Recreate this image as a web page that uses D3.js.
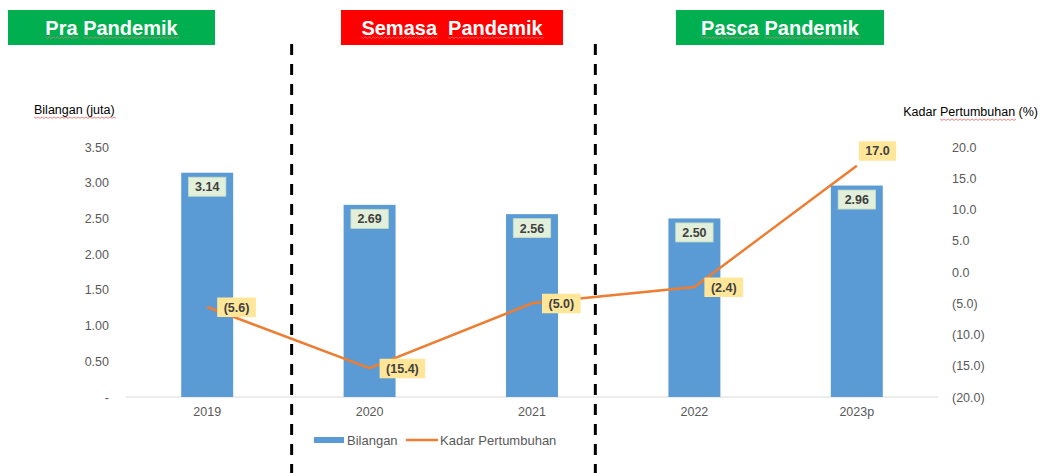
<!DOCTYPE html>
<html>
<head>
<meta charset="utf-8">
<script src="https://cdn.jsdelivr.net/npm/d3@7"></script>
<style>
  html, body { margin: 0; padding: 0; background: #fff; }
  svg { display: block; font-family: "Liberation Sans", Arial, sans-serif; }
</style>
</head>
<body>
<div id="chart"></div>
<script>
const years = ["2019", "2020", "2021", "2022", "2023p"];
const bilangan = [3.14, 2.69, 2.56, 2.50, 2.96];
const kadar = [-5.6, -15.4, -5.0, -2.4, 17.0];
const leftTicks = [0, 0.5, 1.0, 1.5, 2.0, 2.5, 3.0, 3.5];
const rightTicks = [-20, -15, -10, -5, 0, 5, 10, 15, 20];
const phaseLabels = ["Pra Pandemik", "Semasa  Pandemik", "Pasca Pandemik"];
const phaseColors = ["#00B050", "#FF0000", "#00B050"];
const seriesNames = ["Bilangan", "Kadar Pertumbuhan"];

(function () {
  const width = 1040, height = 473;
  const plot = { left: 126, right: 938, top: 147, bottom: 397 };

  const svg = d3.select("#chart").append("svg")
    .attr("width", width)
    .attr("height", height);

  const x = d3.scalePoint().domain(years)
    .range([plot.left, plot.right]).padding(0.5);
  const step = x.step();
  const yL = d3.scaleLinear().domain([0, 3.5]).range([plot.bottom, plot.top]);
  const yR = d3.scaleLinear().domain([-20, 20]).range([plot.bottom, plot.top]);

  const fmtL = (v) => (v === 0 ? "-" : d3.format(".2f")(v));
  const fmtR = (v) => (v < 0 ? `(${d3.format(".1f")(-v)})` : d3.format(".1f")(v));

  // red spell-check squiggle
  function squiggle(x0, x1, y, color) {
    let d = `M${x0},${y}`;
    for (let xx = x0, k = 0; xx < x1; xx += 2, k++) {
      d += `L${xx + 2},${y + (k % 2 ? 0 : 1.4)}`;
    }
    svg.append("path").attr("d", d).attr("fill", "none")
      .attr("stroke", color || "#E05050").attr("stroke-width", 0.7);
  }
  // squiggle under chosen words of a text node
  function squiggleWords(node, words, y, color) {
    const s = node.textContent;
    const x0 = node.getStartPositionOfChar(0).x;
    words.forEach((w) => {
      const i = s.indexOf(w);
      if (i < 0) return;
      const a = x0 + (i ? node.getSubStringLength(0, i) : 0);
      const b = a + node.getSubStringLength(i, w.length);
      squiggle(a, b, y, color);
    });
  }

  // Phase headers
  const headerBoxes = [[8, 207], [341, 222], [676, 208]];
  phaseLabels.forEach((lab, i) => {
    const [bx, bw] = headerBoxes[i];
    svg.append("rect")
      .attr("x", bx).attr("y", 10)
      .attr("width", bw).attr("height", 35)
      .attr("fill", phaseColors[i]);
    const t = svg.append("text")
      .attr("x", bx + bw / 2).attr("y", 34.5)
      .attr("text-anchor", "middle")
      .attr("fill", "#fff")
      .attr("font-size", "20px")
      .attr("font-weight", "bold")
      .style("white-space", "pre")
      .text(lab);
    squiggleWords(t.node(), lab.split(/\s+/), 37, "#D98080");
  });

  // baseline
  svg.append("line")
    .attr("x1", plot.left).attr("x2", plot.right)
    .attr("y1", plot.bottom).attr("y2", plot.bottom)
    .attr("stroke", "#D9D9D9").attr("stroke-width", 1);

  // Left axis ticks
  svg.append("g").selectAll("text").data(leftTicks).join("text")
    .attr("x", 109).attr("y", (d) => yL(d) + 4.5)
    .attr("text-anchor", "end")
    .attr("font-size", "12.5px")
    .attr("fill", "#595959")
    .text(fmtL);

  // Right axis ticks
  svg.append("g").selectAll("text").data(rightTicks).join("text")
    .attr("x", 952).attr("y", (d) => yR(d) + 4.5)
    .attr("font-size", "12.5px")
    .attr("fill", "#595959")
    .text(fmtR);

  // Axis titles
  const tL = svg.append("text")
    .attr("x", 34).attr("y", 114)
    .attr("font-size", "12.5px").attr("fill", "#000")
    .text("Bilangan (juta)");
  squiggleWords(tL.node(), ["Bilangan (juta)"], 117);

  const tR = svg.append("text")
    .attr("x", 1038).attr("y", 116)
    .attr("text-anchor", "end")
    .attr("font-size", "12.5px").attr("fill", "#000")
    .text("Kadar Pertumbuhan (%)");
  squiggleWords(tR.node(), ["Pertumbuhan"], 119);

  // Bars
  const barW = step * 0.32;
  svg.append("g").selectAll("rect").data(years).join("rect")
    .attr("x", (d) => x(d) - barW / 2)
    .attr("y", (d, i) => yL(bilangan[i]))
    .attr("width", barW)
    .attr("height", (d, i) => plot.bottom - yL(bilangan[i]))
    .attr("fill", "#5B9BD5");

  // X labels
  svg.append("g").selectAll("text").data(years).join("text")
    .attr("x", (d) => x(d)).attr("y", 416)
    .attr("text-anchor", "middle")
    .attr("font-size", "12.5px")
    .attr("fill", "#595959")
    .text((d) => d);

  // Growth line
  const line = d3.line()
    .x((d, i) => x(years[i]))
    .y((d) => yR(d));
  svg.append("path")
    .datum(kadar)
    .attr("d", line)
    .attr("fill", "none")
    .attr("stroke", "#ED7D31")
    .attr("stroke-width", 2.5);

  // Bar value labels
  years.forEach((yr, i) => {
    const g = svg.append("g");
    const t = g.append("text")
      .attr("x", x(yr)).attr("y", yL(bilangan[i]) + 18.5)
      .attr("text-anchor", "middle")
      .attr("font-size", "12.5px").attr("font-weight", "bold")
      .attr("fill", "#404040")
      .text(d3.format(".2f")(bilangan[i]));
    const w = t.node().getComputedTextLength() + 13;
    g.insert("rect", "text")
      .attr("x", x(yr) - w / 2).attr("y", yL(bilangan[i]) + 4.5)
      .attr("width", w).attr("height", 19)
      .attr("fill", "#E2EFDA")
      .attr("stroke", "#C9DEC0").attr("stroke-width", 0.8);
  });

  // Line value labels
  kadar.forEach((v, i) => {
    const px = x(years[i]), py = yR(v);
    const last = i === kadar.length - 1;
    const g = svg.append("g");
    const t = g.append("text")
      .attr("font-size", "12.5px").attr("font-weight", "bold")
      .attr("fill", "#404040")
      .text(fmtR(v));
    const w = t.node().getComputedTextLength() + 13;
    const bx = last ? px + 2 : px + 10;
    const by = last ? py - 24.5 : py - 9.5;
    t.attr("x", bx + w / 2).attr("y", by + 14).attr("text-anchor", "middle");
    g.insert("rect", "text")
      .attr("x", bx).attr("y", by)
      .attr("width", w).attr("height", 19.5)
      .attr("fill", "#FFE699");
  });

  // Phase dividers
  const dividers = [x("2019") + step * 0.52, x("2021") + step * 0.39];
  svg.append("g").selectAll("line").data(dividers).join("line")
    .attr("x1", (d) => d).attr("x2", (d) => d)
    .attr("y1", 44).attr("y2", height)
    .attr("stroke", "#000")
    .attr("stroke-width", 3)
    .attr("stroke-dasharray", "11,9");

  // Legend
  const lg = svg.append("g").attr("transform", "translate(314,440)");
  lg.append("rect").attr("x", 0).attr("y", -3).attr("width", 30).attr("height", 6)
    .attr("fill", "#5B9BD5");
  lg.append("text").attr("x", 33).attr("y", 4.5)
    .attr("font-size", "13px").attr("fill", "#595959")
    .text(seriesNames[0]);
  lg.append("line").attr("x1", 92).attr("x2", 124).attr("y1", 0).attr("y2", 0)
    .attr("stroke", "#ED7D31").attr("stroke-width", 2.5);
  lg.append("text").attr("x", 126).attr("y", 4.5)
    .attr("font-size", "13px").attr("fill", "#595959")
    .text(seriesNames[1]);
})();
</script>
</body>
</html>
